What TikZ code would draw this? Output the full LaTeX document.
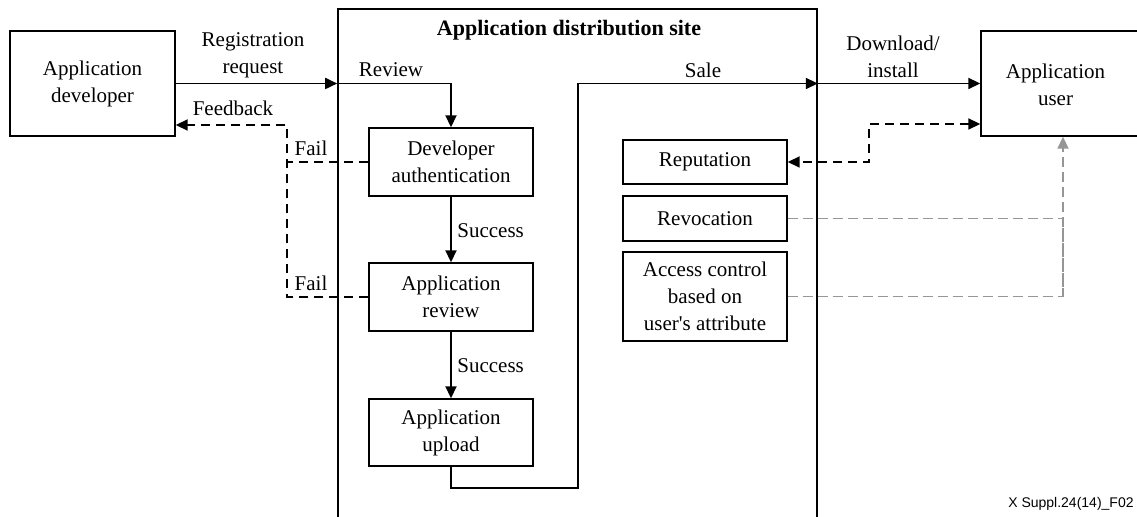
\documentclass[tikz,border=0pt]{standalone}
\usepackage{fontspec}
\setmainfont{Liberation Serif}[Ligatures=TeXOff]
\newfontfamily\footfont{Liberation Sans}
\usetikzlibrary{arrows.meta}
\definecolor{dgray}{RGB}{150,150,150}
\begin{document}
\begin{tikzpicture}[x=0.5pt,y=-0.5pt,
  box/.style={draw, line width=0.7pt, inner sep=0pt, align=center, font=\fontsize{10.5}{13.5}\selectfont},
  lab/.style={inner sep=0pt, align=center, font=\fontsize{10.5}{13.5}\selectfont},
  conn/.style={line width=0.9pt},
  tip/.style={-{Triangle[length=6pt,width=5.5pt]}},
  btip/.style={{Triangle[length=6pt,width=5.5pt]}-{Triangle[length=6pt,width=5.5pt]}},
  dashone/.style={line width=0.9pt, dash pattern=on 4.5pt off 3pt},
  gdash/.style={line width=0.9pt, draw=dgray, dash pattern=on 5pt off 2.5pt}]
\useasboundingbox (0,0) rectangle (1137,517);

% boxes
\node[box, minimum width=82.5pt, minimum height=52.5pt] (dev) at (92.5,83.5) {Application\\developer};
\node[box, line width=0.8pt, minimum width=239.5pt, minimum height=265pt] (site) at (577.5,274) {};
\node[lab, font=\bfseries\fontsize{11}{13}\selectfont] (title) at (569,30) {Application distribution site};
\node[box, minimum width=84.5pt, minimum height=52.5pt] (user) at (1065.5,83.5) {};
\node[lab] (usertxt) at (1055.5,85) {Application\\user};

\node[box, minimum width=82pt, minimum height=34pt] (dauth) at (451,162) {Developer\\authentication};
\node[box, minimum width=82pt, minimum height=34pt] (arev) at (451,297) {Application\\review};
\node[box, minimum width=82pt, minimum height=33.5pt] (aup) at (451,432.5) {Application\\upload};

\node[box, minimum width=82pt, minimum height=22pt] (rep) at (705,162) {Reputation};
\node[box, minimum width=82pt, minimum height=22.5pt] (revo) at (705,218.5) {Revocation};
\node[box, minimum width=82pt, minimum height=44.5pt] (acc) at (705,296.5) {Access control\\based on\\user's attribute};

% coordinates
\coordinate (rin) at (site.west |- dev.east);
\coordinate (sout) at (site.east |- dev.east);
\coordinate (c1) at (451,488);
\coordinate (c2) at (578,488);
\coordinate (c3) at (578,83.5);
\coordinate (fbj) at (287,125);
\coordinate (rj) at (869,124);
\coordinate (gx) at (1063,296.5);

% solid connectors
\draw[conn,tip] (dev.east) -- (rin);
\draw[conn,tip] (rin) -- (rin -| dauth.north) -- (dauth.north);
\draw[conn,tip] (dauth.south) -- (arev.north);
\draw[conn,tip] (arev.south) -- (aup.north);
\draw[conn,tip] (aup.south) -- (c1) -- (c2) -- (c3) -- (sout);
\draw[conn,tip] (sout) -- (sout -| user.west);

% feedback (dashed)
\draw[dashone,tip] (arev.west) -- (arev.west -| fbj) -- (fbj) -- (fbj -| dev.east);
\draw[dashone] (dauth.west) -- (dauth.west -| fbj);

% reputation (dashed, both ends)
\draw[dashone,btip] (rj -| user.west) -- (rj) -- (rj |- rep.east) -- (rep.east);

% gray dashed
\draw[gdash] (revo.east) -- (revo.east -| gx) -- (gx);
\draw[gdash,tip] (acc.east) -- (gx) -- (gx |- user.south);

% labels
\node[lab] (lreg) at (253,55) {Registration\\request};
\node[lab] (lfb) at (233,108) {Feedback};
\node[lab] (lf1) at (311,148) {Fail};
\node[lab] (lf2) at (311,283) {Fail};
\node[lab] (lrev) at (391,70) {Review};
\node[lab, anchor=west] (ls1) at (457,231) {Success};
\node[lab, anchor=west] (ls2) at (457,366) {Success};
\node[lab] (lsale) at (703,70) {Sale};
\node[lab] (ldl) at (893,57) {Download/\\install};
\node[font=\footfont\fontsize{7}{9}\selectfont, anchor=base east, inner sep=0pt] (foot) at (1134,508) {X Suppl.24(14)\_F02};
\end{tikzpicture}
\end{document}
